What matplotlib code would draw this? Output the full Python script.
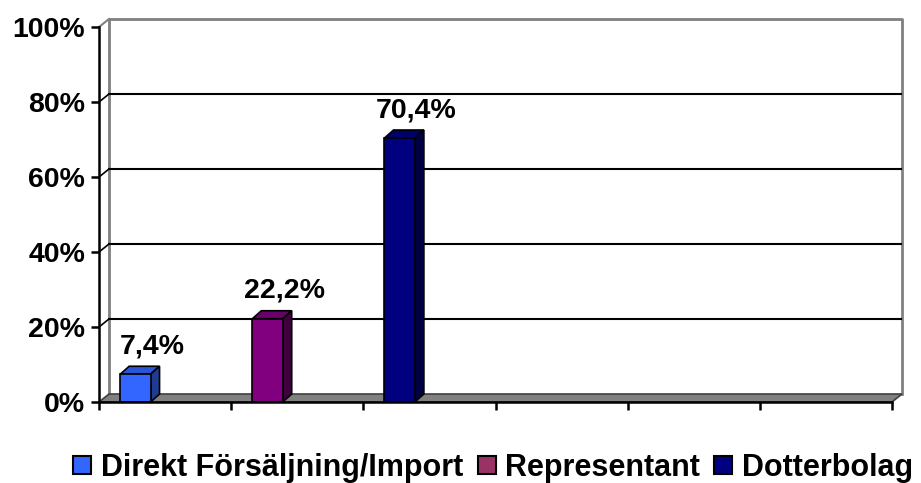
import matplotlib
matplotlib.use('Agg')
import matplotlib.pyplot as plt
from matplotlib.patches import Polygon
from matplotlib.lines import Line2D

plt.rcParams['font.family'] = ['Liberation Sans', 'DejaVu Sans']
plt.rcParams['font.weight'] = 'bold'

# Данные
categories = ['Direkt Försäljning/Import', 'Representant', 'Dotterbolag']
values = [7.4, 22.2, 70.4]
front_colors = ['#3366FF', '#800080', '#000080']
top_colors = ['#2a56d6', '#6a006a', '#00006a']
side_colors = ['#1f3c91', '#400040', '#000040']
legend_colors = ['#3366FF', '#993366', '#000080']
yticks = [0, 20, 40, 60, 80, 100]
n_slots = 6

# Псевдо-3D параметры (в единицах данных)
dx = 10 / 132.17   # сдвиг задней стенки по x
dy = 8 / 375.0     # сдвиг задней стенки по y
bdx = 9 / 132.17   # глубина столбца
bdy = 8 / 375.0
bar_off = 0.16
bar_w = 0.23

fig = plt.figure(figsize=(9.21, 4.83), dpi=100)
ax = fig.add_axes([99 / 921, 1 - 402 / 483, (902 - 99) / 921, (402 - 19) / 483])
ax.set_xlim(0, n_slots + dx)
ax.set_ylim(0, 1 + dy)

gray = '#808080'
# Задняя стенка
ax.plot([dx, dx, n_slots + dx, n_slots + dx], [dy, 1 + dy, 1 + dy, dy],
        color=gray, lw=2, clip_on=False, zorder=1)
ax.plot([0, dx], [1, 1 + dy], color=gray, lw=1.5, clip_on=False, zorder=1)
# Линии сетки
for t in yticks[1:-1]:
    ax.plot([dx, n_slots + dx], [t / 100 + dy, t / 100 + dy], color='black', lw=1.5, zorder=1)
    ax.plot([0, dx], [t / 100, t / 100 + dy], color='black', lw=1.2, zorder=1)

# Пол
floor = Polygon([(0, 0), (n_slots, 0), (n_slots + dx, dy), (dx, dy)],
                closed=True, facecolor=gray, edgecolor='#404040', lw=1.2, zorder=2, clip_on=False)
ax.add_patch(floor)

# Столбцы
for i, v in enumerate(values):
    h = v / 100
    x0 = i + bar_off
    ax.bar(x0, h, width=bar_w, align='edge', color=front_colors[i],
           edgecolor='black', linewidth=1.2, zorder=4)
    top = Polygon([(x0, h), (x0 + bar_w, h), (x0 + bar_w + bdx, h + bdy), (x0 + bdx, h + bdy)],
                  closed=True, facecolor=top_colors[i], edgecolor='black', lw=1.2, zorder=3)
    side = Polygon([(x0 + bar_w, 0), (x0 + bar_w + bdx, bdy), (x0 + bar_w + bdx, h + bdy), (x0 + bar_w, h)],
                   closed=True, facecolor=side_colors[i], edgecolor='black', lw=1.2, zorder=3)
    ax.add_patch(top)
    ax.add_patch(side)
    label = f'{v:.1f}'.replace('.', ',') + '%'
    ax.text(x0 + bar_w / 2 + 0.125, h + bdy + 0.034, label, ha='center', va='baseline',
            fontsize=20.5, fontweight='bold', zorder=5)

# Оси
for s in ['top', 'right']:
    ax.spines[s].set_visible(False)
ax.spines['left'].set_bounds(0, 1)
ax.spines['bottom'].set_bounds(0, n_slots)
ax.spines['left'].set_linewidth(1.8)
ax.spines['bottom'].set_linewidth(1.8)
ax.spines['bottom'].set_zorder(6)
ax.set_yticks([t / 100 for t in yticks])
ax.set_yticklabels([f'{t}%' for t in yticks], fontsize=20.5, fontweight='bold')
ax.set_xticks(range(n_slots + 1))
ax.set_xticklabels([])
ax.tick_params(axis='y', direction='out', length=6, width=1.8, pad=4)
ax.tick_params(axis='x', direction='out', length=6, width=1.8)

# Легенда
handles = [Line2D([], [], marker='s', linestyle='none', markersize=13,
                  markerfacecolor=c, markeredgecolor='black', markeredgewidth=1.5)
           for c in legend_colors]
fig.legend(handles, categories, loc='center left', bbox_to_anchor=(73 / 921, 1 - 468 / 483),
           ncol=3, frameon=False, handlelength=0.62, handletextpad=0.3,
           columnspacing=0.45, borderpad=0, borderaxespad=0,
           prop={'weight': 'bold', 'size': 22})

fig.savefig('out.png', dpi=100)
